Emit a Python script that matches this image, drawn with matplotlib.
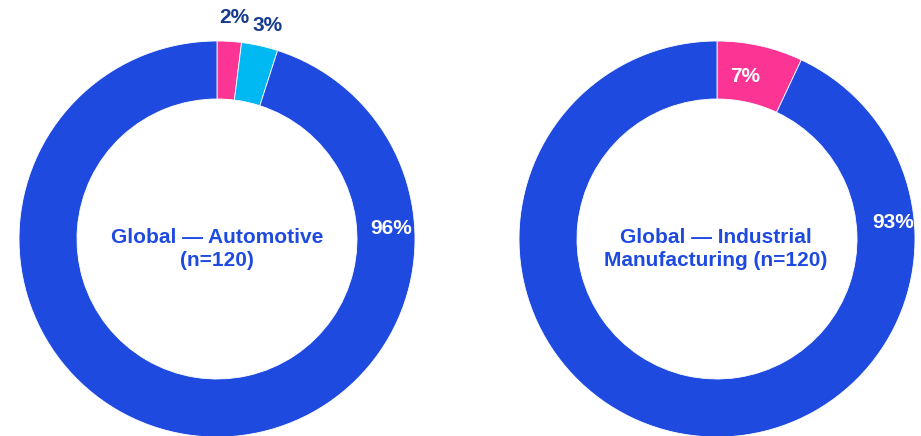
import matplotlib.pyplot as plt

plt.rcParams['font.family'] = ['Liberation Sans', 'DejaVu Sans']

# data
auto_labels = ['Pink', 'Cyan', 'Blue']
auto_values = [2, 3, 96]
auto_title = 'Global \u2014 Automotive\n(n=120)'

ind_labels = ['Pink', 'Blue']
ind_values = [7, 93]
ind_title = 'Global \u2014 Industrial\nManufacturing (n=120)'

BLUE = '#1f4ae0'
PINK = '#fc3594'
CYAN = '#00b9f2'
NAVY = '#163a8e'

W, H = 921, 436

fig = plt.figure(figsize=(W / 100, H / 100), dpi=100)
ax = fig.add_axes([0, 0, 1, 1])


def ring(values, colors, cx, cy, r=198, width=58):
    # cy given from the top of the image
    ax.pie(values, colors=colors, radius=r, center=(cx, H - cy),
           startangle=90, counterclock=False,
           wedgeprops=dict(width=width, edgecolor='white', linewidth=0.6))


def label(x, y, s, color, **kw):
    ax.text(x, H - y, s, color=color, fontsize=15, fontweight='bold',
            ha='center', va='center', **kw)


ring(auto_values, [PINK, CYAN, BLUE], 217, 239)
ring(ind_values, [PINK, BLUE], 717, 239)

ax.set_xlim(0, W)
ax.set_ylim(0, H)
ax.axis('off')

# percentage labels
label(234, 18, f'{auto_values[0]}%', NAVY)
label(268, 26, f'{auto_values[1]}%', NAVY)
label(391, 228, f'{auto_values[2]}%', 'white')
label(745, 76, f'{ind_values[0]}%', 'white')
label(893, 222, f'{ind_values[1]}%', 'white')

# centre titles
label(217, 249, auto_title, BLUE, linespacing=1.3)
label(716, 249, ind_title, BLUE, linespacing=1.3)

fig.savefig('out.png', dpi=100)
